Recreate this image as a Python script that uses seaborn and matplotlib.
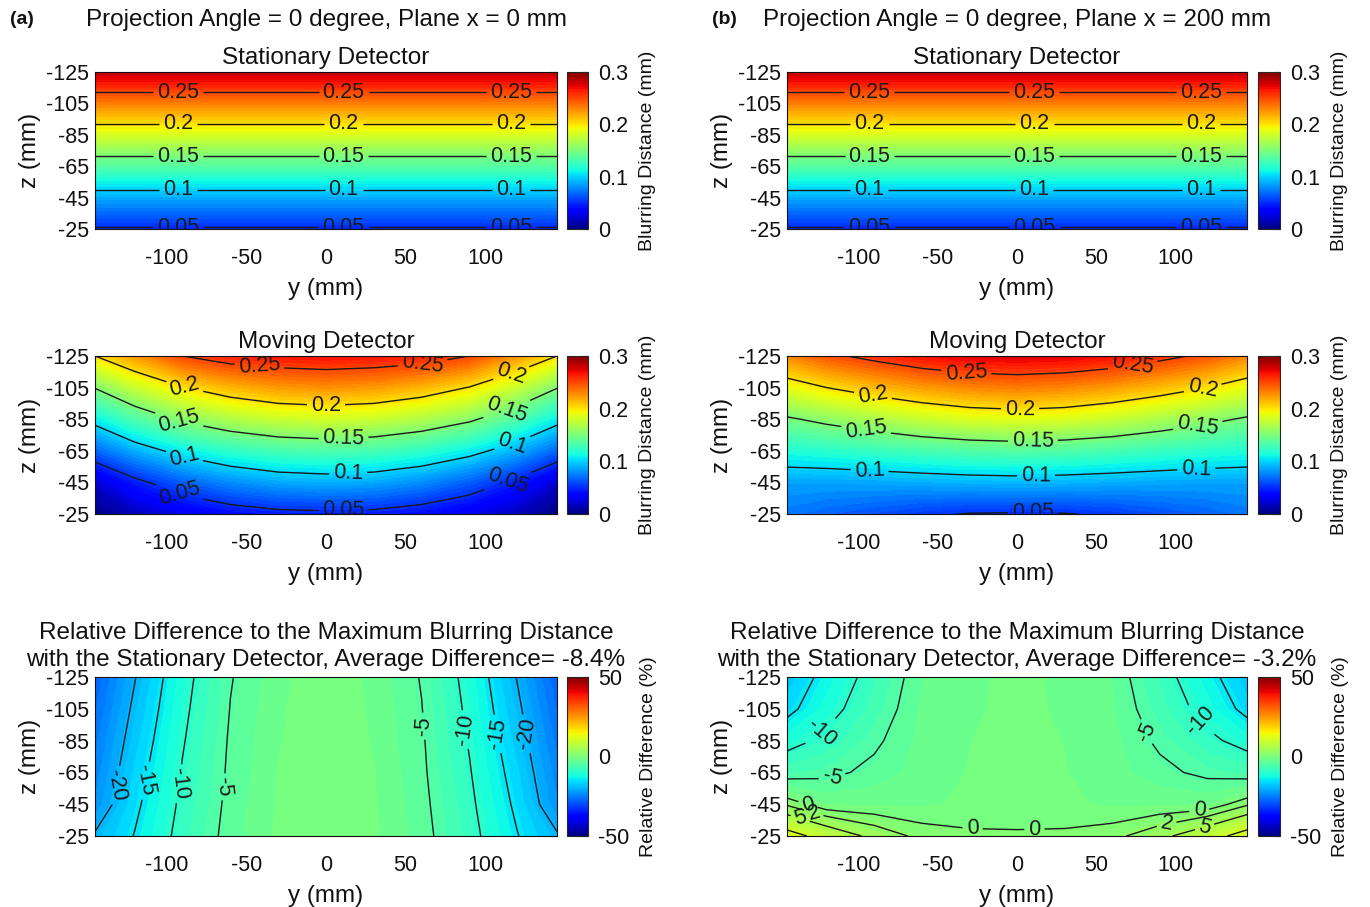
import numpy as np
import matplotlib
matplotlib.use("Agg")
import matplotlib.pyplot as plt
import seaborn as sns
from matplotlib.cm import ScalarMappable
from matplotlib.colors import Normalize
from matplotlib.ticker import FormatStrFormatter

# ---------------- data ----------------
y_mm = [-145, -120, -90, -60, -30, 0, 30, 60, 90, 120, 145]
z_mm = [-125, -105, -85, -65, -45, -25]

# stationary detector: blurring depends on z only (one value per z row)
stationary_a = [0.283, 0.232, 0.183, 0.135, 0.088, 0.048]
stationary_b = [0.283, 0.232, 0.183, 0.135, 0.088, 0.048]

# moving detector, plane x = 0 mm (rows: z, columns: y)
moving_a = [
    [0.200, 0.223, 0.250, 0.262, 0.266, 0.268, 0.266, 0.262, 0.250, 0.223, 0.200],
    [0.151, 0.176, 0.199, 0.214, 0.223, 0.226, 0.223, 0.214, 0.199, 0.176, 0.151],
    [0.108, 0.132, 0.154, 0.168, 0.177, 0.180, 0.177, 0.168, 0.154, 0.132, 0.108],
    [0.066, 0.088, 0.108, 0.121, 0.129, 0.132, 0.129, 0.121, 0.108, 0.088, 0.066],
    [0.021, 0.044, 0.064, 0.078, 0.086, 0.0885, 0.086, 0.078, 0.064, 0.044, 0.021],
    [0.000, 0.015, 0.029, 0.038, 0.044, 0.0455, 0.044, 0.038, 0.029, 0.015, 0.000],
]
# moving detector, plane x = 200 mm
moving_b = [
    [0.229, 0.245, 0.257, 0.268, 0.274, 0.276, 0.274, 0.268, 0.257, 0.245, 0.229],
    [0.1875, 0.200, 0.212, 0.222, 0.229, 0.232, 0.229, 0.222, 0.212, 0.200, 0.1875],
    [0.147, 0.156, 0.166, 0.176, 0.183, 0.1855, 0.183, 0.176, 0.166, 0.156, 0.147],
    [0.116, 0.119, 0.124, 0.129, 0.133, 0.135, 0.133, 0.129, 0.124, 0.119, 0.116],
    [0.085, 0.085, 0.086, 0.088, 0.090, 0.091, 0.090, 0.088, 0.086, 0.085, 0.085],
    [0.072, 0.066, 0.060, 0.053, 0.049, 0.048, 0.049, 0.053, 0.060, 0.066, 0.072],
]
# relative difference (%), plane x = 0 mm
reldiff_a = [
    [-28.0, -20.2, -11.5, -5.2, -2.0, -0.5, -2.0, -5.2, -11.5, -20.2, -28.0],
    [-26.8, -19.1, -10.9, -4.9, -1.8, -0.5, -1.8, -4.9, -10.9, -19.1, -26.8],
    [-25.6, -18.0, -10.3, -4.6, -1.7, -0.4, -1.7, -4.6, -10.3, -18.0, -25.6],
    [-24.4, -16.9, -9.7, -4.4, -1.5, -0.4, -1.5, -4.4, -9.7, -16.9, -24.4],
    [-23.2, -15.9, -9.1, -4.1, -1.4, -0.3, -1.4, -4.1, -9.1, -15.9, -23.2],
    [-19.5, -14.8, -8.5, -3.8, -1.2, -0.3, -1.2, -3.8, -8.5, -14.8, -19.5],
]
# relative difference (%), plane x = 200 mm
reldiff_b = [
    [-18.3, -13.5, -8.1, -3.2, -2.0, -1.0, -2.0, -3.2, -8.1, -13.5, -18.3],
    [-16.3, -11.7, -7.0, -2.9, -1.9, -1.0, -1.9, -2.9, -7.0, -11.7, -16.3],
    [-11.6, -9.0, -5.6, -2.6, -1.6, -1.0, -1.6, -2.6, -5.6, -9.0, -11.6],
    [-6.7, -5.8, -4.2, -2.4, -1.5, -1.0, -1.5, -2.4, -4.2, -5.8, -6.7],
    [1.6, -1.7, -1.8, -1.8, -1.3, -1.0, -1.3, -1.8, -1.8, -1.7, 1.6],
    [12.0, 8.0, 3.9, 1.2, 0.4, 0.25, 0.4, 1.2, 3.9, 8.0, 12.0],
]

blur_levels = [0.05, 0.1, 0.15, 0.2, 0.25]
diff_levels_a = [-20, -15, -10, -5]
diff_levels_b = [-15, -10, -5, 0, 2, 5, 10]
avg_diff = ["-8.4%", "-3.2%"]
x_ticks = [-100, -50, 0, 50, 100]
z_ticks = [-125, -105, -85, -65, -45, -25]

# ---------------- style ----------------
sns.set_theme(style="white")
plt.rcParams["font.family"] = ["Liberation Sans", "DejaVu Sans"]
plt.rcParams["axes.unicode_minus"] = False
plt.rcParams["contour.negative_linestyle"] = "solid"

INK = "#111111"
W, H = 1370, 907
fig = plt.figure(figsize=(W / 100, H / 100), dpi=100)
fig.patch.set_facecolor("white")


def rect(x0, x1, top, bottom):
    return [x0 / W, 1 - bottom / H, (x1 - x0) / W, (bottom - top) / H]


cols = [(95, 557, 567, 588), (787, 1247, 1258, 1280)]
rows = [(72, 229), (356, 514), (677, 836)]

Yg, Zg = np.meshgrid(y_mm, z_mm)


def panel(col, row, field, vmin, vmax, line_levels, label_pos,
          title, cticks, clabel_txt, title_pad=6, linespacing=1.2):
    ax0, ax1, c0, c1 = cols[col]
    top, bottom = rows[row]
    ax = fig.add_axes(rect(ax0, ax1, top, bottom))
    cax = fig.add_axes(rect(c0, c1, top, bottom))
    data = np.asarray(field, dtype=float)
    fill = np.linspace(vmin, vmax, 65)
    ax.contourf(Yg, Zg, data, levels=fill, cmap="jet", vmin=vmin, vmax=vmax,
                extend="both")
    cs = ax.contour(Yg, Zg, data, levels=line_levels, colors="k",
                    linewidths=1.0, linestyles="solid")
    ax.clabel(cs, manual=label_pos, inline=True,
              fmt="%g", fontsize=15.5, inline_spacing=4)
    ax.set_xlim(-145, 145)
    ax.set_ylim(-25, -125)
    ax.set_xticks(x_ticks)
    ax.set_yticks(z_ticks)
    ax.tick_params(direction="in", top=True, right=True, length=5, width=0.8,
                   labelsize=15.5, colors=INK)
    ax.tick_params(axis="x", pad=14)
    ax.tick_params(axis="y", pad=4)
    for s in ax.spines.values():
        s.set_linewidth(0.8)
        s.set_color(INK)
    ax.set_xlabel("y (mm)", fontsize=17.5, labelpad=6, color=INK)
    ax.set_ylabel("z (mm)", fontsize=17.5, labelpad=4, color=INK)
    ax.set_title(title, fontsize=17.5, pad=title_pad, color=INK,
                 linespacing=linespacing)
    sm = ScalarMappable(norm=Normalize(vmin, vmax), cmap="jet")
    cb = fig.colorbar(sm, cax=cax, ticks=cticks)
    cb.ax.yaxis.set_major_formatter(FormatStrFormatter("%g"))
    cb.ax.tick_params(direction="in", length=4, width=0.8, labelsize=15.5,
                      pad=7, colors=INK)
    cb.outline.set_linewidth(0.8)
    cb.set_label(clabel_txt, fontsize=14, labelpad=8, color=INK)
    return ax


# row 1: stationary detector
stat_pos = []
for lev, zz in zip(blur_levels, [-25.6, -50.5, -71.5, -92.5, -112.5]):
    for yy in (-93, 11, 116):
        stat_pos.append((yy, zz))
for c, prof in enumerate([stationary_a, stationary_b]):
    field = np.repeat(np.asarray(prof)[:, None], len(y_mm), axis=1)
    panel(c, 0, field, 0, 0.3, blur_levels, stat_pos,
          "Stationary Detector", [0, 0.1, 0.2, 0.3], "Blurring Distance (mm)")

# row 2: moving detector
mov_pos_a = [(-42, -116), (61, -118),
             (-89, -104), (0, -93), (117, -112),
             (-92, -85), (11, -73), (114, -90),
             (-89, -61), (14, -50), (117, -70),
             (-92, -38), (11, -27), (114, -46)]
mov_pos_b = [(-32, -114), (73, -119),
             (-91, -99), (2, -90), (117, -105),
             (-95, -79), (10, -71), (114, -81),
             (-93, -52), (12, -49), (113, -54),
             (10, -25.5)]
panel(0, 1, moving_a, 0, 0.3, blur_levels, mov_pos_a,
      "Moving Detector", [0, 0.1, 0.2, 0.3], "Blurring Distance (mm)")
panel(1, 1, moving_b, 0, 0.3, blur_levels, mov_pos_b,
      "Moving Detector", [0, 0.1, 0.2, 0.3], "Blurring Distance (mm)")

# row 3: relative difference
diff_pos_a = [(-132, -57), (124, -89),
              (-114, -60), (107, -89),
              (-93, -58), (88, -92),
              (-65, -56), (60, -94)]
diff_pos_b = [(-123, -90), (115, -97),
              (-116, -60), (80, -90),
              (-132, -44), (-28, -30), (11, -29), (115, -40),
              (-128, -40), (95, -29),
              (-137, -35), (119, -28)]
for c, (field, levs, pos) in enumerate([
        (reldiff_a, diff_levels_a, diff_pos_a),
        (reldiff_b, diff_levels_b, diff_pos_b)]):
    ttl = ("Relative Difference to the Maximum Blurring Distance\n"
           "with the Stationary Detector, Average Difference= " + avg_diff[c])
    panel(c, 2, field, -50, 50, levs, pos, ttl, [-50, 0, 50],
          "Relative Difference (%)", title_pad=8, linespacing=1.3)

# column headers
fig.text(326 / W, 1 - 20 / H, "Projection Angle = 0 degree, Plane x = 0 mm",
         ha="center", va="center", fontsize=17.5, color=INK)
fig.text(1017 / W, 1 - 20 / H, "Projection Angle = 0 degree, Plane x = 200 mm",
         ha="center", va="center", fontsize=17.5, color=INK)
fig.text(10 / W, 1 - 20 / H, "(a)", ha="left", va="center", fontsize=14,
         fontweight="bold", color=INK)
fig.text(712 / W, 1 - 20 / H, "(b)", ha="left", va="center", fontsize=14,
         fontweight="bold", color=INK)

fig.savefig("out.png", dpi=100, facecolor="white")
